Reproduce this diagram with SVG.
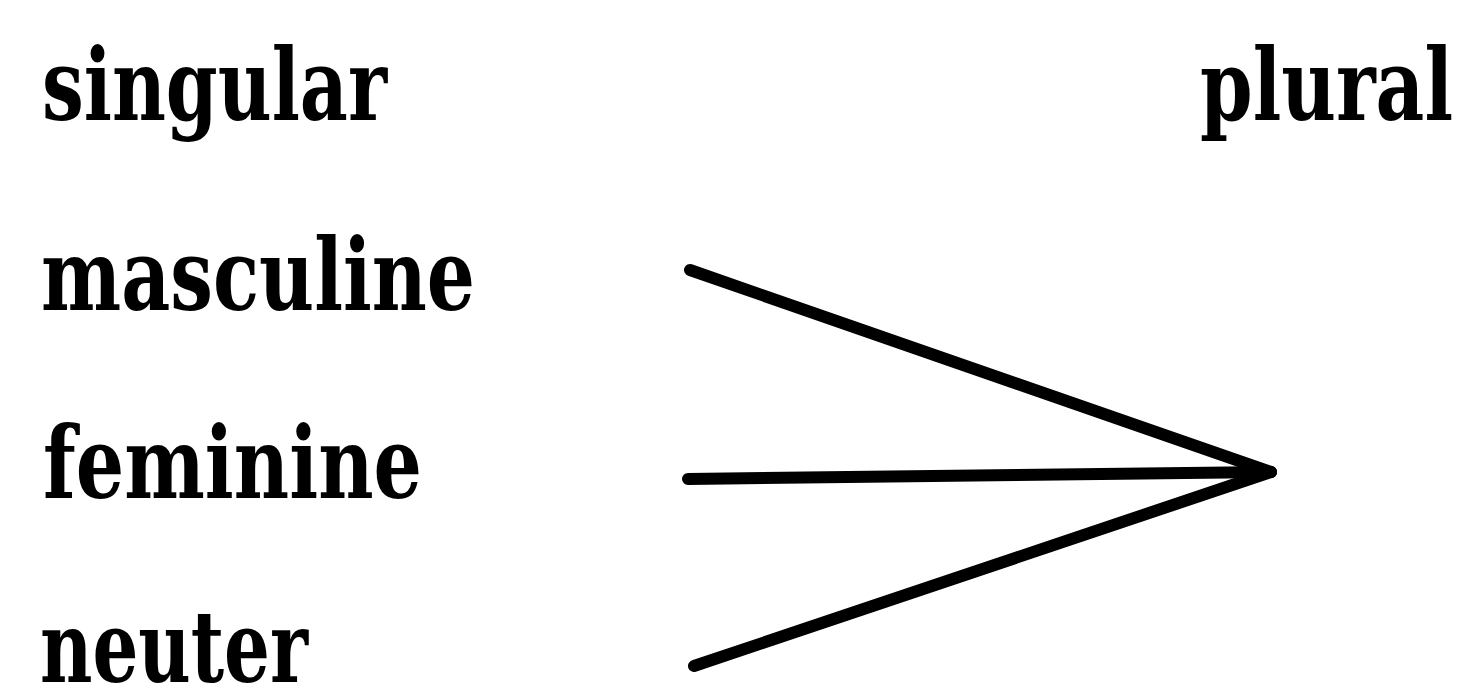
<svg xmlns="http://www.w3.org/2000/svg" width="1468" height="691" viewBox="0 0 1468 691">
<style>
.lbl{font-family:"DejaVu Serif","Liberation Serif",serif;font-size:100px;font-weight:bold;fill:#000}
.con{stroke:#000;stroke-width:12;stroke-linecap:round;fill:none}
</style>
<rect width="1468" height="691" fill="#fff"/>
<g id="singular"><text class="lbl" x="42" y="120" textLength="345" lengthAdjust="spacingAndGlyphs">singular</text></g>
<g id="plural"><text class="lbl" x="1200" y="120" textLength="253" lengthAdjust="spacingAndGlyphs">plural</text></g>
<g id="masculine"><text class="lbl" x="41" y="310" textLength="434" lengthAdjust="spacingAndGlyphs">masculine</text></g>
<g id="feminine"><text class="lbl" x="43" y="498" textLength="379" lengthAdjust="spacingAndGlyphs">feminine</text></g>
<g id="neuter"><text class="lbl" x="40" y="682" textLength="268" lengthAdjust="spacingAndGlyphs">neuter</text></g>
<g id="connectors">
<line class="con" x1="690" y1="270" x2="1271" y2="472"/>
<line class="con" x1="688" y1="479" x2="1271" y2="472"/>
<line class="con" x1="694" y1="666" x2="1271" y2="472"/>
</g>
</svg>
